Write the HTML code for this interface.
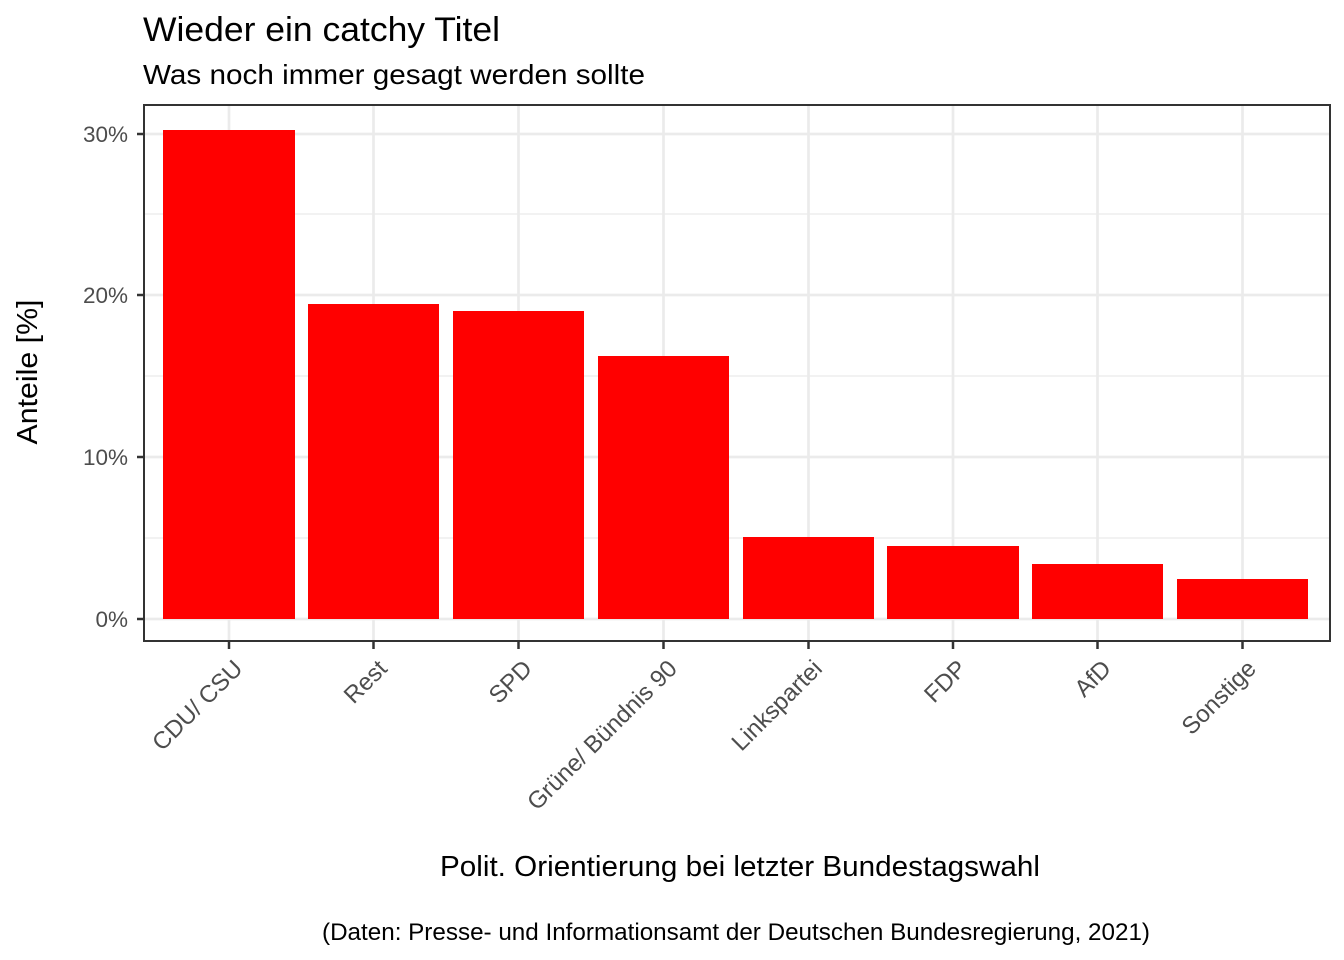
<!DOCTYPE html>
<html><head><meta charset="utf-8"><style>body{margin:0;background:#fff}svg{display:block}text{font-family:"Liberation Sans",Arial,sans-serif}</style></head><body>
<svg width="1344" height="960" viewBox="0 0 1344 960">
<rect width="1344" height="960" fill="#fff"/>
<text x="143" y="41" font-size="34" textLength="357" lengthAdjust="spacingAndGlyphs" fill="#000">Wieder ein catchy Titel</text>
<text x="143" y="84" font-size="28" textLength="502" lengthAdjust="spacingAndGlyphs" fill="#000">Was noch immer gesagt werden sollte</text>
<g stroke="#ebebeb" stroke-width="1.3">
<line x1="144" x2="1330" y1="538" y2="538"/><line x1="144" x2="1330" y1="376" y2="376"/><line x1="144" x2="1330" y1="214" y2="214"/>
</g>
<g stroke="#ebebeb" stroke-width="2.7">
<line x1="144" x2="1330" y1="619" y2="619"/><line x1="144" x2="1330" y1="457" y2="457"/><line x1="144" x2="1330" y1="295" y2="295"/><line x1="144" x2="1330" y1="134" y2="134"/>
<line x1="229" x2="229" y1="105" y2="641"/><line x1="373.5" x2="373.5" y1="105" y2="641"/><line x1="518.5" x2="518.5" y1="105" y2="641"/><line x1="663.5" x2="663.5" y1="105" y2="641"/><line x1="808.5" x2="808.5" y1="105" y2="641"/><line x1="953" x2="953" y1="105" y2="641"/><line x1="1097.5" x2="1097.5" y1="105" y2="641"/><line x1="1242.5" x2="1242.5" y1="105" y2="641"/>
</g>
<g fill="#ff0000">
<rect x="163" y="130" width="132" height="489"/>
<rect x="308" y="304" width="131" height="315"/>
<rect x="453" y="311" width="131" height="308"/>
<rect x="598" y="356" width="131" height="263"/>
<rect x="743" y="537" width="131" height="82"/>
<rect x="887" y="546" width="132" height="73"/>
<rect x="1032" y="564" width="131" height="55"/>
<rect x="1177" y="579" width="131" height="40"/>
</g>
<rect x="144" y="105" width="1186" height="536" fill="none" stroke="#333" stroke-width="2"/>
<g stroke="#333" stroke-width="2.5">
<line x1="137" x2="144" y1="619" y2="619"/><line x1="137" x2="144" y1="457" y2="457"/><line x1="137" x2="144" y1="295" y2="295"/><line x1="137" x2="144" y1="134" y2="134"/>
<line x1="229" x2="229" y1="641" y2="649"/><line x1="373.5" x2="373.5" y1="641" y2="649"/><line x1="518.5" x2="518.5" y1="641" y2="649"/><line x1="663.5" x2="663.5" y1="641" y2="649"/><line x1="808.5" x2="808.5" y1="641" y2="649"/><line x1="953" x2="953" y1="641" y2="649"/><line x1="1097.5" x2="1097.5" y1="641" y2="649"/><line x1="1242.5" x2="1242.5" y1="641" y2="649"/>
</g>
<g font-size="22.5" fill="#4d4d4d" text-anchor="end">
<text x="128" y="627">0%</text><text x="128" y="465">10%</text><text x="128" y="303">20%</text><text x="128" y="142">30%</text>
</g>
<g font-size="24" fill="#4d4d4d" text-anchor="end">
<text transform="translate(244,670) rotate(-45)">CDU/ CSU</text>
<text transform="translate(388.5,670) rotate(-45)">Rest</text>
<text transform="translate(533.5,670) rotate(-45)">SPD</text>
<text transform="translate(678.5,670) rotate(-45)">Grüne/ Bündnis 90</text>
<text transform="translate(823.5,670) rotate(-45)">Linkspartei</text>
<text transform="translate(968,670) rotate(-45)">FDP</text>
<text transform="translate(1112.5,670) rotate(-45)">AfD</text>
<text transform="translate(1257.5,670) rotate(-45)">Sonstige</text>
</g>
<text x="740" y="876" font-size="29" textLength="600" lengthAdjust="spacingAndGlyphs" text-anchor="middle" fill="#000">Polit. Orientierung bei letzter Bundestagswahl</text>
<text x="736" y="940" font-size="24" textLength="828" lengthAdjust="spacingAndGlyphs" text-anchor="middle" fill="#000">(Daten: Presse- und Informationsamt der Deutschen Bundesregierung, 2021)</text>
<text transform="translate(37,372) rotate(-90)" font-size="29" textLength="145" lengthAdjust="spacingAndGlyphs" text-anchor="middle" fill="#000">Anteile [%]</text>
</svg>
</body></html>
